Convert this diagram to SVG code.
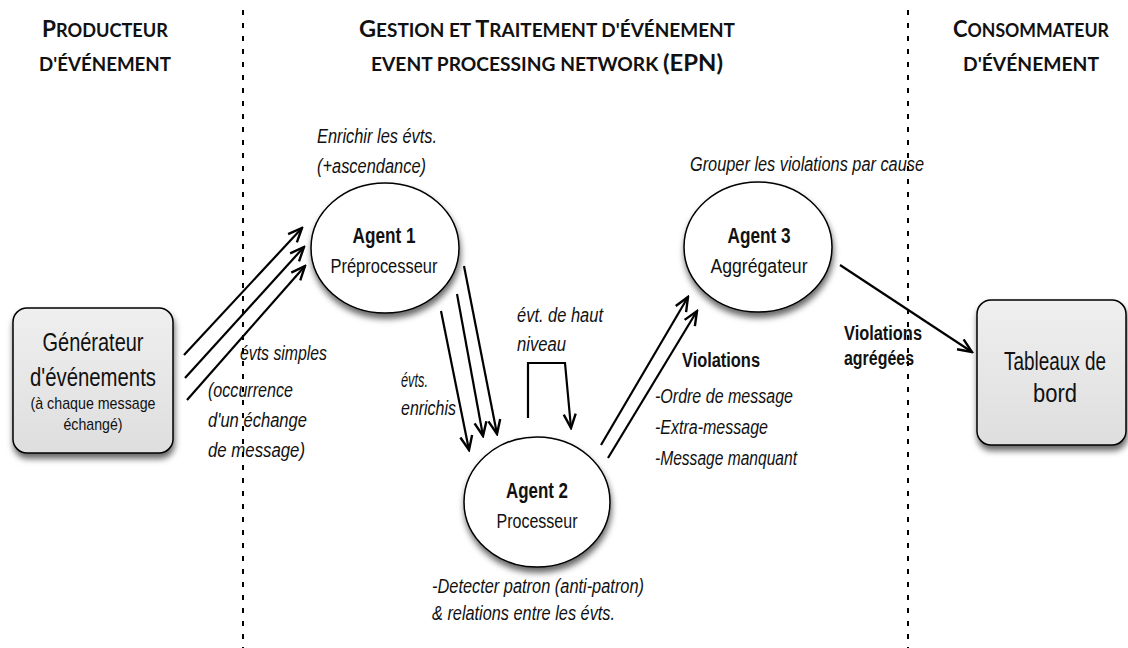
<svg xmlns="http://www.w3.org/2000/svg" width="1128" height="648" viewBox="0 0 1128 648">
<defs>
<style>
.hdr{font-family:Lato,"Open Sans","DejaVu Sans",sans-serif;font-weight:700;fill:#111;text-anchor:middle}
.big{font-size:23px}
.sm{font-size:18.5px}
.t{font-family:"Liberation Sans",Arial,sans-serif;fill:#111}
.c{text-anchor:middle}
.it{font-style:italic;font-size:20px}
.b{font-weight:bold}
.ell{fill:#fff;stroke:#000;stroke-width:1.5;filter:url(#sh)}
.box{fill:url(#gr);stroke:#000;stroke-width:1.5;filter:url(#sh)}
.conn{fill:none;stroke:#000;stroke-width:2.2;marker-end:url(#ah)}
.sep{stroke:#000;stroke-width:2;stroke-dasharray:5 8}
</style>
<linearGradient id="gr" x1="0" y1="0" x2="0" y2="1">
<stop offset="0" stop-color="#efefef"/>
<stop offset="1" stop-color="#dedede"/>
</linearGradient>
<filter id="sh" x="-20%" y="-20%" width="140%" height="150%">
<feDropShadow dx="1" dy="5" stdDeviation="3" flood-color="#000" flood-opacity="0.6"/>
</filter>
<marker id="ah" viewBox="-16 -8 18 16" refX="0" refY="0" markerWidth="18" markerHeight="16" markerUnits="userSpaceOnUse" orient="auto">
<path d="M-14,-6 L0,0 L-14,6" fill="none" stroke="#000" stroke-width="2.4"/>
</marker>
</defs>
<rect width="1128" height="648" fill="#fff"/>

<g id="headers">
<text class="hdr" x="105" y="37" textLength="126" lengthAdjust="spacingAndGlyphs"><tspan class="big">P</tspan><tspan class="sm">RODUCTEUR</tspan></text>
<text class="hdr sm" x="105" y="71" textLength="132" lengthAdjust="spacingAndGlyphs">D'ÉVÉNEMENT</text>
<text class="hdr" x="547" y="37" textLength="376" lengthAdjust="spacingAndGlyphs"><tspan class="big">G</tspan><tspan class="sm">ESTION ET </tspan><tspan class="big">T</tspan><tspan class="sm">RAITEMENT D'ÉVÉNEMENT</tspan></text>
<text class="hdr" x="547" y="71" textLength="352" lengthAdjust="spacingAndGlyphs"><tspan class="sm">EVENT PROCESSING NETWORK </tspan><tspan class="big">(EPN)</tspan></text>
<text class="hdr" x="1031" y="37" textLength="156" lengthAdjust="spacingAndGlyphs"><tspan class="big">C</tspan><tspan class="sm">ONSOMMATEUR</tspan></text>
<text class="hdr sm" x="1031" y="71" textLength="136" lengthAdjust="spacingAndGlyphs">D'ÉVÉNEMENT</text>
</g>

<g id="connectors">
<line class="conn" x1="184" y1="355" x2="302" y2="228"/>
<line class="conn" x1="185" y1="378" x2="304" y2="247"/>
<line class="conn" x1="187" y1="400" x2="305" y2="266"/>
<line class="conn" x1="441" y1="311" x2="469" y2="450"/>
<line class="conn" x1="457" y1="294" x2="483" y2="436"/>
<line class="conn" x1="464" y1="266" x2="497" y2="434"/>
<path class="conn" d="M528,418 V363 H565 L571,428"/>
<line class="conn" x1="601" y1="445" x2="688" y2="297"/>
<line class="conn" x1="608" y1="458" x2="697" y2="311"/>
<line class="conn" x1="840" y1="265" x2="972" y2="352"/>
<text class="t it" x="240" y="360" textLength="87" lengthAdjust="spacingAndGlyphs">évts simples</text>
<text class="t it" x="208" y="397" textLength="85" lengthAdjust="spacingAndGlyphs">(occurrence</text>
<text class="t it" x="208" y="427" textLength="99" lengthAdjust="spacingAndGlyphs">d'un échange</text>
<text class="t it" x="208" y="457" textLength="97" lengthAdjust="spacingAndGlyphs">de message)</text>
<text class="t it" x="401" y="387" textLength="27" lengthAdjust="spacingAndGlyphs">évts.</text>
<text class="t it" x="401" y="415" textLength="55" lengthAdjust="spacingAndGlyphs">enrichis</text>
<text class="t it" x="517" y="322" textLength="86" lengthAdjust="spacingAndGlyphs">évt. de haut</text>
<text class="t it" x="517" y="351" textLength="49" lengthAdjust="spacingAndGlyphs">niveau</text>
<text class="t b" x="682" y="367" font-size="20" textLength="78" lengthAdjust="spacingAndGlyphs">Violations</text>
<text class="t it" x="655" y="403" textLength="138" lengthAdjust="spacingAndGlyphs">-Ordre de message</text>
<text class="t it" x="655" y="434" textLength="113" lengthAdjust="spacingAndGlyphs">-Extra-message</text>
<text class="t it" x="655" y="465" textLength="142" lengthAdjust="spacingAndGlyphs">-Message manquant</text>
<text class="t b" x="844" y="340" font-size="20" textLength="78" lengthAdjust="spacingAndGlyphs">Violations</text>
<text class="t b" x="844" y="365" font-size="20" textLength="70" lengthAdjust="spacingAndGlyphs">agrégées</text>
</g>

<g id="generateur">
<rect class="box" x="13" y="308" width="160" height="145" rx="14"/>
<text class="t c" x="93" y="351" font-size="25" textLength="101" lengthAdjust="spacingAndGlyphs">Générateur</text>
<text class="t c" x="93" y="386" font-size="25" textLength="126" lengthAdjust="spacingAndGlyphs">d'événements</text>
<text class="t c" x="93" y="409" font-size="17" textLength="125" lengthAdjust="spacingAndGlyphs">(à chaque message</text>
<text class="t c" x="93" y="430" font-size="17" textLength="59" lengthAdjust="spacingAndGlyphs">échangé)</text>
</g>

<g id="agent1">
<ellipse class="ell" cx="385" cy="248" rx="74" ry="65"/>
<text class="t c b" x="384" y="243" font-size="22" textLength="63" lengthAdjust="spacingAndGlyphs">Agent 1</text>
<text class="t c" x="384" y="273" font-size="20" textLength="107" lengthAdjust="spacingAndGlyphs">Préprocesseur</text>
<text class="t it" x="317" y="143" textLength="120" lengthAdjust="spacingAndGlyphs">Enrichir les évts.</text>
<text class="t it" x="317" y="173" textLength="109" lengthAdjust="spacingAndGlyphs">(+ascendance)</text>
</g>

<g id="agent2">
<ellipse class="ell" cx="537" cy="502" rx="73" ry="65"/>
<text class="t c b" x="537" y="498" font-size="22" textLength="62" lengthAdjust="spacingAndGlyphs">Agent 2</text>
<text class="t c" x="537" y="528" font-size="20" textLength="81" lengthAdjust="spacingAndGlyphs">Processeur</text>
<text class="t it" x="432" y="593" textLength="212" lengthAdjust="spacingAndGlyphs">-Detecter patron (anti-patron)</text>
<text class="t it" x="432" y="620" textLength="183" lengthAdjust="spacingAndGlyphs">&amp; relations entre les évts.</text>
</g>

<g id="agent3">
<ellipse class="ell" cx="758" cy="247" rx="74" ry="65"/>
<text class="t c b" x="759" y="243" font-size="22" textLength="63" lengthAdjust="spacingAndGlyphs">Agent 3</text>
<text class="t c" x="759" y="273" font-size="20" textLength="97" lengthAdjust="spacingAndGlyphs">Aggrégateur</text>
<text class="t it" x="690" y="171" textLength="234" lengthAdjust="spacingAndGlyphs">Grouper les violations par cause</text>
</g>

<g id="tableaux">
<rect class="box" x="977" y="300" width="149" height="145" rx="14"/>
<text class="t c" x="1055" y="370" font-size="25" textLength="102" lengthAdjust="spacingAndGlyphs">Tableaux de</text>
<text class="t c" x="1055" y="402" font-size="25" textLength="44" lengthAdjust="spacingAndGlyphs">bord</text>
</g>

<g id="separators">
<line class="sep" x1="243" y1="10" x2="243" y2="648"/>
<line class="sep" x1="908" y1="10" x2="908" y2="648"/>
</g>
</svg>
